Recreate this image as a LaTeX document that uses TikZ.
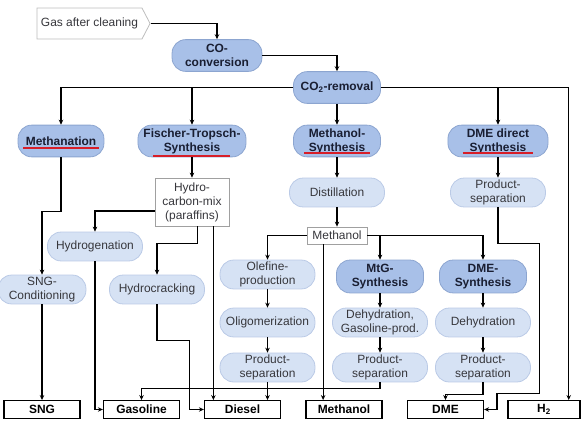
\documentclass[tikz,border=0pt]{standalone}
\usepackage{fontspec}
\setmainfont{Liberation Sans}
\usepackage{xcolor}
\usepackage{tikz}
\usetikzlibrary{arrows.meta,calc,shapes.symbols}
\definecolor{procblue}{RGB}{168,192,232}
\definecolor{procline}{RGB}{140,165,208}
\definecolor{stepblue}{RGB}{214,226,244}
\definecolor{stepline}{RGB}{186,202,230}
\definecolor{boxgray}{RGB}{160,160,160}
\definecolor{txtgray}{RGB}{55,55,60}
\definecolor{txtnavy}{RGB}{25,30,50}
\definecolor{ulred}{RGB}{215,30,40}

\begin{document}
\begin{tikzpicture}[
  font=\fontsize{12}{14}\selectfont,
  >={Stealth[length=5pt,width=4.5pt]},
  line width=1.1pt,
  every node/.style={align=center},
  base/.style    = {draw, line width=0.8pt, rounded corners=0.48cm, text centered, inner sep=1pt},
  proc/.style    = {base, fill=procblue, draw=procline, text=txtnavy, font=\fontsize{12}{14}\selectfont\bfseries,
                    minimum width=3.07cm, minimum height=1.12cm},
  stepnd/.style  = {base, fill=stepblue, draw=stepline, text=txtgray,
                    minimum width=3.35cm, minimum height=1.02cm},
  mixbx/.style   = {draw=boxgray, line width=0.8pt, fill=white, text=txtgray, inner sep=1pt},
  outbx/.style   = {draw, line width=1.3pt, fill=white, font=\fontsize{12}{14}\selectfont\bfseries,
                    minimum width=2.68cm, minimum height=0.62cm, inner sep=0pt},
  gasnd/.style   = {signal, signal to=east, signal pointer angle=125, draw=boxgray!70, line width=0.8pt,
                    fill=white, text=txtgray, minimum width=3.99cm, minimum height=1.09cm, inner sep=1pt},
  redline/.style = {draw=ulred, line width=1.2pt}
]
\useasboundingbox (0,0) rectangle (20.532,14.958);

%% ===== gas treatment =====
\node[gasnd] (gas) at (3.157, 14.129) {Gas after cleaning};
\node[proc, minimum width=3.17cm] (co) at (7.655, 13.000) {CO-\\conversion};
\node[proc] (co2) at (11.889, 11.871) {CO\textsubscript{2}-removal};

%% ===== synthesis routes =====
\node[proc, minimum width=3.03cm] (meth) at (2.152, 9.984) {Methanation};
\node[proc, minimum width=3.81cm] (ft) at (6.773, 9.984) {Fischer-Tropsch-\\Synthesis};
\node[proc] (mesyn) at (11.889, 9.984) {Methanol-\\Synthesis};
\node[proc, minimum width=3.53cm] (dmed) at (17.568, 9.984) {DME direct\\Synthesis};

% red underlines
\draw[redline] ($(meth)+(-1.34,-0.247)$) -- ++(2.68,0);
\draw[redline] ($(ft)+(-1.37,-0.53)$) -- ++(2.72,0);
\draw[redline] ($(mesyn)+(-1.16,-0.423)$) -- ++(2.33,0);
\draw[redline] ($(dmed)+(-1.25,-0.423)$) -- ++(2.50,0);

\node[mixbx, minimum width=2.61cm, minimum height=1.69cm] (hc) at (6.773, 7.832) {Hydro-\\carbon-mix\\(paraffins)};
\node[stepnd] (dist) at (11.889, 8.167) {Distillation};
\node[stepnd] (dmeps) at (17.568, 8.167) {Product-\\separation};
\node[mixbx, minimum width=2.12cm, minimum height=0.60cm] (methbox) at (11.889, 6.650) {Methanol};

\node[stepnd] (hyd) at (3.351, 6.262) {Hydrogenation};
\node[stepnd, minimum width=3.10cm] (sngc) at (1.482, 4.745) {SNG-\\Conditioning};
\node[stepnd] (hcr) at (5.539, 4.745) {Hydrocracking};

\node[stepnd] (ole) at (9.437, 5.274) {Olefine-\\production};
\node[stepnd] (oli) at (9.437, 3.581) {Oligomerization};
\node[stepnd] (ops) at (9.437, 1.993) {Product-\\separation};

\node[proc, minimum height=1.16cm] (mtg) at (13.406, 5.204) {MtG-\\Synthesis};
\node[stepnd] (mdh) at (13.406, 3.581) {Dehydration,\\Gasoline-prod.};
\node[stepnd] (mps) at (13.406, 1.993) {Product-\\separation};

\node[proc, minimum height=1.16cm] (dmes) at (17.039, 5.204) {DME-\\Synthesis};
\node[stepnd] (ddh) at (17.039, 3.581) {Dehydration};
\node[stepnd] (dps) at (17.039, 1.993) {Product-\\separation};

%% ===== products =====
\node[outbx] (sng) at (1.482, 0.512) {SNG};
\node[outbx] (gasoline) at (4.992, 0.512) {Gasoline};
\node[outbx] (diesel) at (8.555, 0.512) {Diesel};
\node[outbx] (methout) at (12.136, 0.512) {Methanol};
\node[outbx] (dme) at (15.716, 0.512) {DME};
\node[outbx, minimum width=2.54cm] (h2) at (19.191, 0.512) {H\textsubscript{2}};

\coordinate (hcb) at ($(hc.south east)+(-0.564,0)$);
\coordinate (mbd) at ($(methbox.south)+(-0.49,0)$);
\coordinate (h2in) at ($(h2.north east)+(-0.42,0)$);

%% ===== connectors =====
\draw[->] (gas.east) -| (co.north);
\draw[->] (co.east) -| (co2.north);
\draw[->] (co2.west) -| (meth.north);
\draw[->] (co2.west) -| (ft.north);
\draw[->] (co2.south) -- (mesyn.north);
\draw[->] (co2.east) -| (dmed.north);
\draw[->] (co2.east) -| (h2in);

\draw[->] (meth.south) -- ++(0,-1.92) -| (sngc.north);
\draw[->] (sngc.south) -- (sng.north);

\draw[->] (ft.south) -- (hc.north);
\draw[->] ($(hc.west)+(0,-0.318)$) -| (hyd.north);
\draw[->] ($(hc.south)+(0.18,0)$) -- ++(0,-0.6) -| (hcr.north);
\draw[->] (hcb) -- (hcb |- diesel.north);
\draw[->] (hyd.south) |- (gasoline.west);
\draw[->] (hcr.south) -- ++(0,-1.272) -| ($(diesel.west)+(-0.494,0)$) -- (diesel.west);

\draw[->] (mesyn.south) -- (dist.north);
\draw[->] (dist.south) -- (methbox.north);
\draw[->] (methbox.west) -| (ole.north);
\draw[->] (methbox.east) -| (mtg.north);
\draw[->] (methbox.east) -| (dmes.north);
\draw[->] (mbd) -- (mbd |- methout.north);

\draw[->] (ole) -- (oli);
\draw[->] (oli) -- (ops);
\draw[->] (ops.south) -- (ops.south |- diesel.north);

\draw[->] (mtg) -- (mdh);
\draw[->] (mdh) -- (mps);
\draw[->] (mps.south) -- ++(0,-0.213) -| (gasoline.north);

\draw[->] (dmes) -- (ddh);
\draw[->] (ddh) -- (dps);
\draw[->] (dps.south) -- ++(0,-0.425) -| (dme.north);

\draw[->] (dmed) -- (dmeps);
\draw[->] (dmeps.south) -- ++(0,-1.27) -- ++(1.48,0) -- ++(0,-5.291) -- ++(-1.515,0) |- (dme.east);

\end{tikzpicture}
\end{document}
